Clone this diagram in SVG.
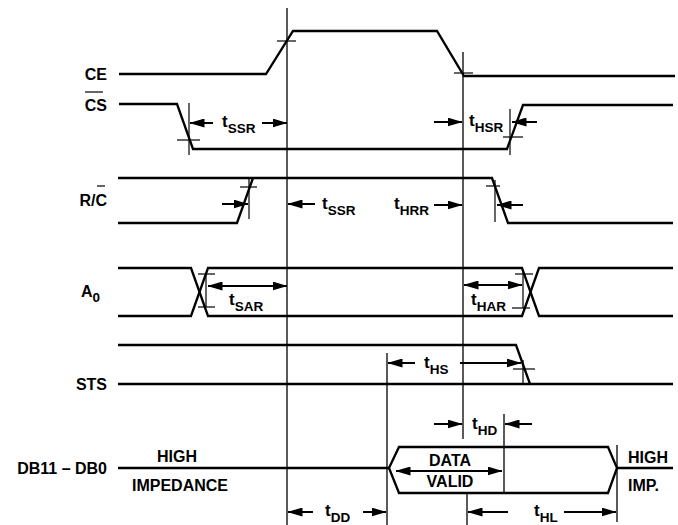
<svg xmlns="http://www.w3.org/2000/svg" width="678" height="525" viewBox="0 0 678 525">
<style>
.sig{stroke:#000;stroke-width:2.3;fill:none;stroke-linejoin:miter}
.ref{stroke:#000;stroke-width:1.3;fill:none}
.tick{stroke:#000;stroke-width:1.2;fill:none}
.arr{stroke:#000;stroke-width:2;fill:none;marker-end:url(#ah)}
.dbl{stroke:#000;stroke-width:2;fill:none;marker-end:url(#ah);marker-start:url(#ahs)}
text{font-family:"Liberation Sans",Arial,Helvetica,sans-serif;font-weight:bold;font-size:16px;fill:#000}
.lbl{text-anchor:end}
.t{font-size:17px}
.sub{font-size:13.5px}
.mid{text-anchor:middle}
</style>
<defs>
<marker id="ah" markerUnits="userSpaceOnUse" markerWidth="15" markerHeight="9" refX="14.5" refY="4.5" orient="auto"><path d="M0,0 L15,4.5 L0,9 z" fill="#000"/></marker>
<marker id="ahs" markerUnits="userSpaceOnUse" markerWidth="15" markerHeight="9" refX="0.5" refY="4.5" orient="auto"><path d="M15,0 L0,4.5 L15,9 z" fill="#000"/></marker>
</defs>
<rect width="678" height="525" fill="#fff"/>

<g id="ref-lines">
<line class="ref" x1="287" y1="8" x2="287" y2="525"/>
<line class="ref" x1="463" y1="52" x2="463" y2="439"/>
<line class="ref" x1="387" y1="353" x2="387" y2="525"/>
<line class="ref" x1="504" y1="414" x2="504" y2="493"/>
<line class="ref" x1="467" y1="493" x2="467" y2="525"/>
<line class="ref" x1="617" y1="445" x2="617" y2="522"/>
</g>

<g id="CE">
<text class="lbl" x="107" y="80">CE</text>
<path class="sig" d="M119,74 L266,74 L293,31 L437,31 L464,76 L675,76"/>
<line class="tick" x1="277" y1="41" x2="296" y2="41"/>
<line class="tick" x1="454" y1="73" x2="473" y2="73"/>
</g>

<g id="CS">
<text class="lbl" x="107" y="111">CS</text>
<line class="tick" x1="85" y1="92" x2="103" y2="92"/>
<path class="sig" d="M119,104 L177,104 L193,149 L507,149 L523,105 L673,105"/>
<line class="tick" x1="189" y1="103" x2="189" y2="155"/>
<line class="tick" x1="177" y1="140" x2="200" y2="140"/>
<line class="tick" x1="510" y1="109" x2="510" y2="155"/>
<line class="tick" x1="503" y1="137" x2="523" y2="137"/>
</g>

<g id="RC">
<text class="lbl" x="107" y="206">R/C</text>
<line class="tick" x1="97" y1="186" x2="105" y2="186"/>
<path class="sig" d="M118,178 L492,178 L508,223 L673,223"/>
<path class="sig" d="M118,223 L237,223 L253,178"/>
<line class="tick" x1="249" y1="178" x2="249" y2="219"/>
<line class="tick" x1="240" y1="187" x2="257" y2="187"/>
<line class="tick" x1="486" y1="186" x2="500" y2="186"/>
<line class="tick" x1="495" y1="180" x2="495" y2="222"/>
</g>

<g id="A0">
<text class="lbl" x="100" y="297">A<tspan class="sub" dy="5">0</tspan></text>
<path class="sig" d="M118,268 L191,268 L208,316 L522,316 L539,268 L673,268"/>
<path class="sig" d="M118,316 L191,316 L208,268 L522,268 L539,316 L673,316"/>
<line class="tick" x1="198" y1="274" x2="215" y2="274"/>
<line class="tick" x1="198" y1="307" x2="215" y2="307"/>
<line class="tick" x1="206" y1="274" x2="206" y2="307"/>
<line class="tick" x1="515" y1="274" x2="533" y2="274"/>
<line class="tick" x1="512" y1="308" x2="530" y2="308"/>
<line class="tick" x1="523" y1="270" x2="523" y2="308"/>
</g>

<g id="STS">
<text class="lbl" x="107" y="390">STS</text>
<path class="sig" d="M118,345 L516,345 L530,384"/>
<path class="sig" d="M118,384 L673,384"/>
<line class="tick" x1="513" y1="369" x2="535" y2="369"/>
<line class="tick" x1="523" y1="360" x2="523" y2="384"/>
</g>

<g id="DB">
<text class="lbl" x="107" y="474">DB11 – DB0</text>
<text x="157" y="462">HIGH</text>
<text x="132" y="491">IMPEDANCE</text>
<path class="sig" d="M118,468 L389,468"/>
<path class="sig" d="M389,468 L399,447 L608,447 L617,468 L608,493 L399,493 Z"/>
<path class="sig" d="M617,468 L673,468"/>
<text class="mid" x="450" y="466">DATA</text>
<text class="mid" x="450" y="487">VALID</text>
<text x="628" y="463">HIGH</text>
<text x="628" y="491">IMP.</text>
</g>

<g id="connectors">
<line class="arr" x1="213" y1="123" x2="190" y2="123"/>
<line class="arr" x1="262" y1="123" x2="287" y2="123"/>
<text class="t" x="222" y="127">t<tspan class="sub" dy="6">SSR</tspan></text>

<line class="arr" x1="434" y1="122" x2="462" y2="122"/>
<line class="arr" x1="537" y1="122" x2="512" y2="122"/>
<text class="t" x="469" y="126">t<tspan class="sub" dy="6">HSR</tspan></text>

<line class="arr" x1="222" y1="204" x2="248" y2="204"/>
<line class="arr" x1="315" y1="204" x2="288" y2="204"/>
<text class="t" x="322" y="209">t<tspan class="sub" dy="6">SSR</tspan></text>

<line class="arr" x1="434" y1="205" x2="462" y2="205"/>
<line class="arr" x1="523" y1="205" x2="497" y2="205"/>
<text class="t" x="394" y="209">t<tspan class="sub" dy="6">HRR</tspan></text>

<line class="dbl" x1="208" y1="286" x2="287" y2="286"/>
<text class="t" x="229" y="305">t<tspan class="sub" dy="6">SAR</tspan></text>

<line class="dbl" x1="464" y1="285" x2="522" y2="285"/>
<text class="t" x="471" y="305">t<tspan class="sub" dy="6">HAR</tspan></text>

<line class="arr" x1="415" y1="363" x2="388" y2="363"/>
<line class="arr" x1="460" y1="363" x2="521" y2="363"/>
<text class="t" x="424" y="368">t<tspan class="sub" dy="6">HS</tspan></text>

<line class="arr" x1="434" y1="424" x2="462" y2="424"/>
<line class="arr" x1="532" y1="424" x2="505" y2="424"/>
<text class="t" x="472" y="429">t<tspan class="sub" dy="6">HD</tspan></text>

<line class="dbl" x1="396" y1="471" x2="502" y2="471"/>

<line class="arr" x1="313" y1="512" x2="288" y2="512"/>
<line class="arr" x1="363" y1="512" x2="386" y2="512"/>
<text class="t" x="325" y="516">t<tspan class="sub" dy="6">DD</tspan></text>

<line class="arr" x1="508" y1="512" x2="468" y2="512"/>
<line class="arr" x1="564" y1="512" x2="616" y2="512"/>
<text class="t" x="534" y="516">t<tspan class="sub" dy="6">HL</tspan></text>
</g>
</svg>
